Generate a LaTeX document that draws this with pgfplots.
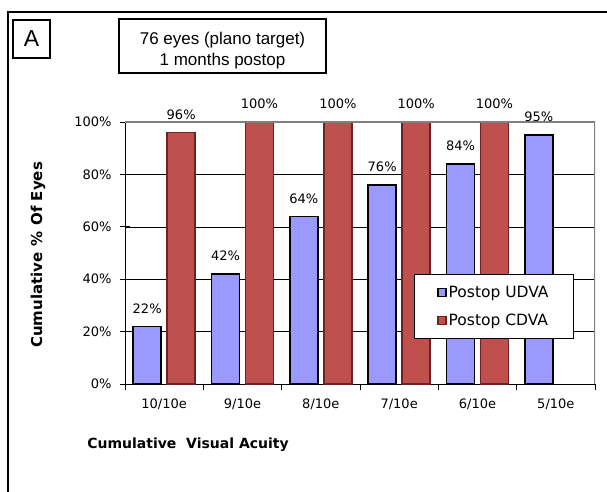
\documentclass[border=0pt]{standalone}
\usepackage{fontspec}
\setmainfont{DejaVu Sans}
\newfontfamily\arial{Liberation Sans}
\usepackage{pgfplots}
\pgfplotsset{compat=1.18}
\definecolor{udva}{RGB}{153,153,255}
\definecolor{cdva}{RGB}{192,80,77}
\definecolor{cdvaedge}{RGB}{110,35,35}
\begin{document}
\begin{tikzpicture}
\path[use as bounding box] (-125pt,384pt) rectangle (482pt,-108pt);
\begin{axis}[
  at={(0pt,0pt)}, anchor=south west,
  scale only axis, width=470pt, height=262pt,
  ybar=6pt, bar width=28pt,
  xmin=-0.5, xmax=5.5, ymin=0, ymax=100,
  axis x line*=bottom, axis y line*=left,
  axis line style={black, line width=0.8pt},
  xtick={0,...,5},
  xticklabels={10/10e,9/10e,8/10e,7/10e,6/10e,5/10e},
  xtick style={draw=none},
  extra x ticks={-0.5,0.5,1.5,2.5,3.5,4.5,5.5},
  extra x tick labels={},
  extra x tick style={major tick length=6pt, tick align=outside, xtick style={draw=black, line width=0.6pt}},
  ytick={0,20,...,100},
  yticklabel={\pgfmathprintnumber{\tick}\%},
  ytick align=center, major tick length=10pt,
  ytick style={black, line width=0.6pt},
  ymajorgrids, grid style={black, line width=0.5pt},
  /pgf/number format/assume math mode=true,
  tick label style={font=\fontsize{13}{15}\selectfont},
  xticklabel style={yshift=-1pt},
  yticklabel style={xshift=-5pt},
  nodes near coords={\pgfmathprintnumber{\pgfplotspointmeta}\%},
  every node near coord/.append style={font=\fontsize{13}{15}\selectfont, yshift=9pt},
  legend style={at={(0.615,0.42)}, anchor=north west, draw=black, line width=0.8pt,
    font=\fontsize{15.5}{17}\selectfont, inner xsep=23pt, inner ysep=9.5pt, row sep=11pt},
  legend cell align=left,
  legend image code/.code={\draw[#1, line width=1.2pt] (0pt,-4pt) rectangle (8pt,4pt);},
]
\addplot[fill=udva, draw=black, line width=1.6pt] coordinates {(0,22) (1,42) (2,64) (3,76) (4,84) (5,95)};
\addplot[fill=cdva, draw=cdvaedge, line width=1.4pt] coordinates {(0,96) (1,100) (2,100) (3,100) (4,100)};
\legend{Postop UDVA, Postop CDVA}
\draw[gray, line width=1.5pt] (rel axis cs:0,1) -- (rel axis cs:1,1) -- (rel axis cs:1,0);
\end{axis}
\draw[black, line width=1.5pt] (-117pt,372pt) rectangle (495pt,-116pt);
\draw[black, line width=1.2pt] (-112pt,364pt) rectangle (-75pt,326pt);
\node[font=\arial\fontsize{23}{26}\selectfont] at (-93.5pt,345pt) {A};
\draw[black, line width=1.2pt] (-6pt,365pt) rectangle (201pt,311pt);
\node[font=\arial\fontsize{17}{21}\selectfont, align=center] at (97.5pt,333pt) {76 eyes (plano target)\\1 months postop};
\node[font=\bfseries\fontsize{15}{17}\selectfont, rotate=90] at (-87pt,129pt) {Cumulative\hspace{6pt}\%\hspace{6pt}Of\hspace{5pt}Eyes};
\node[font=\bfseries\fontsize{14}{16}\selectfont] at (63pt,-61pt) {Cumulative\ \ Visual Acuity};
\end{tikzpicture}
\end{document}
